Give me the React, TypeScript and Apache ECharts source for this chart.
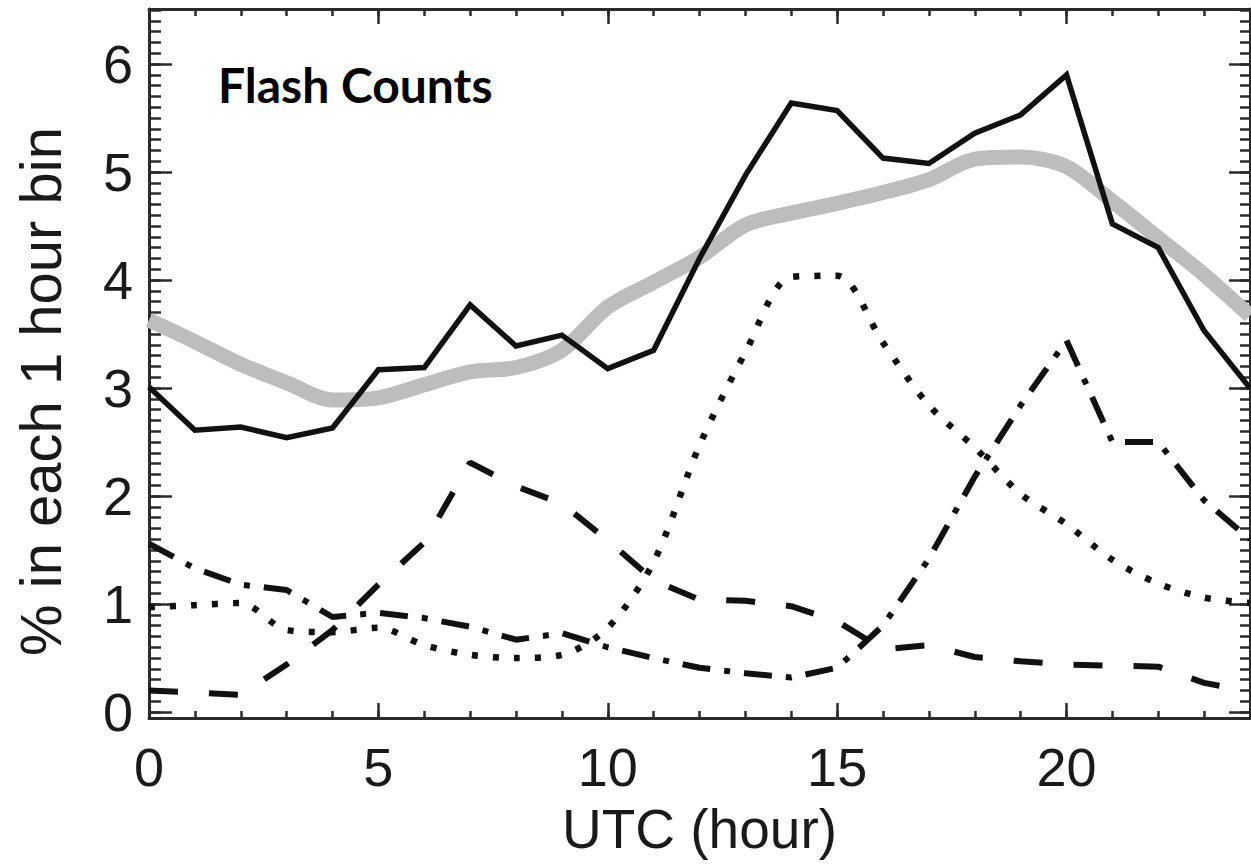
import React, { useEffect, useRef } from 'react';
import * as echarts from 'echarts';

// Hour of day (UTC)
const hours = [0, 1, 2, 3, 4, 5, 6, 7, 8, 9, 10, 11, 12, 13, 14, 15, 16, 17, 18, 19, 20, 21, 22, 23, 24];

// Black solid line
const solidSeries = [3.01, 2.61, 2.64, 2.54, 2.63, 3.17, 3.19, 3.77, 3.39, 3.49, 3.18, 3.35, 4.2, 4.97, 5.64, 5.57, 5.13, 5.08, 5.36, 5.53, 5.9, 4.52, 4.3, 3.53, 3.0];
// Thick gray line
const graySeries = [3.63, 3.43, 3.22, 3.05, 2.89, 2.91, 3.03, 3.15, 3.19, 3.35, 3.75, 3.98, 4.21, 4.51, 4.62, 4.71, 4.81, 4.93, 5.12, 5.14, 5.05, 4.73, 4.39, 4.05, 3.67];
// Dotted line
const dottedSeries = [0.97, 0.99, 1.01, 0.76, 0.74, 0.78, 0.62, 0.53, 0.5, 0.53, 0.78, 1.39, 2.47, 3.33, 4.03, 4.04, 3.42, 2.84, 2.45, 2.02, 1.74, 1.41, 1.19, 1.06, 1.01];
// Long-dashed line
const dashedSeries = [0.2, 0.18, 0.16, 0.44, 0.76, 1.18, 1.57, 2.31, 2.09, 1.93, 1.59, 1.22, 1.04, 1.03, 0.98, 0.84, 0.58, 0.62, 0.51, 0.47, 0.44, 0.43, 0.42, 0.27, 0.19];
// Dash-dot line
const dashDotSeries = [1.56, 1.33, 1.18, 1.13, 0.88, 0.92, 0.87, 0.79, 0.67, 0.73, 0.6, 0.5, 0.41, 0.36, 0.32, 0.41, 0.8, 1.42, 2.18, 2.84, 3.44, 2.5, 2.5, 1.96, 1.6];

const titleText = 'Flash Counts';
const xName = 'UTC (hour)';
const yName = '% in each 1 hour bin';

const pairs = (ys: number[]) => hours.map((h, i) => [h, ys[i]]);

export default function App() {
  const ref = useRef<HTMLDivElement>(null);
  useEffect(() => {
    if (!ref.current) return;
    const chart = echarts.init(ref.current, undefined, { renderer: 'svg' });
    const AX = '#2b2b2b';
    const FONT = 'Liberation Sans';
    const yMin = -0.055;
    const yMax = 6.51;
    const tickStyle = { color: AX, width: 2.5 };
    const xBase = (pos: string, interval: number, len: number, main: boolean, labels: boolean) => ({
      type: 'value',
      position: pos,
      min: 0,
      max: 24,
      interval,
      axisLine: { show: main, onZero: false, lineStyle: { color: AX, width: 3 } },
      axisTick: { show: true, inside: true, length: len, lineStyle: tickStyle },
      axisLabel: labels
        ? {
            show: true,
            fontSize: 54,
            fontFamily: FONT,
            color: '#1a1a1a',
            margin: 22,
            formatter: (v: number) => (v % 5 === 0 ? String(v) : ''),
          }
        : { show: false },
      splitLine: { show: false },
      ...(labels
        ? {
            name: xName,
            nameLocation: 'middle',
            nameGap: 83,
            nameTextStyle: { fontSize: 55, fontFamily: FONT, color: '#1a1a1a' },
          }
        : {}),
    });
    const yBase = (pos: string, step: number, len: number, main: boolean, labels: boolean) => ({
      type: 'value',
      position: pos,
      min: yMin,
      max: yMax,
      minInterval: step,
      maxInterval: step,
      axisLine: { show: main, onZero: false, lineStyle: { color: AX, width: 3 } },
      axisTick: { show: true, inside: true, length: len, lineStyle: tickStyle },
      axisLabel: labels
        ? {
            show: true,
            fontSize: 54,
            fontFamily: FONT,
            color: '#1a1a1a',
            margin: 16,
            formatter: (v: number) => (Math.abs(v - Math.round(v)) < 1e-6 ? String(Math.round(v)) : ''),
          }
        : { show: false },
      splitLine: { show: false },
      ...(labels
        ? {
            name: yName,
            nameLocation: 'middle',
            nameGap: 80,
            nameTextStyle: { fontSize: 58, fontFamily: FONT, color: '#1a1a1a', padding: [0, 56, 0, 0] },
          }
        : {}),
    });

    const black = '#111111';
    chart.setOption({
      animation: false,
      backgroundColor: '#ffffff',
      title: {
        text: titleText,
        left: 218,
        top: 60,
        padding: 0,
        textStyle: { fontFamily: 'Lato', fontWeight: 'bold', fontSize: 48, color: '#000000' },
      },
      grid: { left: 149, top: 9, width: 1101, height: 709, containLabel: false, outerBoundsMode: 'none' },
      xAxis: [
        xBase('bottom', 5, 15, true, true),
        xBase('bottom', 1, 7, false, false),
        xBase('top', 5, 15, true, false),
        xBase('top', 1, 7, false, false),
      ],
      yAxis: [
        yBase('left', 1, 23, true, true),
        yBase('left', 0.1, 12, false, false),
        yBase('right', 1, 21, true, false),
        yBase('right', 0.1, 10, false, false),
      ],
      series: [
        {
          name: 'Gray',
          type: 'line',
          data: pairs(graySeries),
          showSymbol: false,
          symbol: 'none',
          smooth: 0.3,
          lineStyle: { color: '#bdbdbd', width: 15, join: 'round' },
          z: 1,
        },
        {
          name: 'Dotted',
          type: 'line',
          data: pairs(dottedSeries),
          showSymbol: false,
          symbol: 'none',
          smooth: 0.3,
          lineStyle: { color: black, width: 6.5, type: [6, 15], cap: 'butt' },
          z: 2,
        },
        {
          name: 'Dashed',
          type: 'line',
          data: pairs(dashedSeries),
          showSymbol: false,
          symbol: 'none',
          lineStyle: { color: black, width: 6, type: [29, 31], cap: 'butt' },
          z: 2,
        },
        {
          name: 'Dash-dot',
          type: 'line',
          data: pairs(dashDotSeries),
          showSymbol: false,
          symbol: 'none',
          lineStyle: { color: black, width: 6, type: [28, 14, 6, 14], cap: 'butt' },
          z: 2,
        },
        {
          name: 'Solid',
          type: 'line',
          data: pairs(solidSeries),
          showSymbol: false,
          symbol: 'none',
          lineStyle: { color: black, width: 5.5, join: 'miter' },
          z: 3,
        },
      ],
    });
    return () => chart.dispose();
  }, []);
  return (
    <div
      ref={ref}
      style={{ position: 'absolute', left: 0, top: 0, width: 1251, height: 864, background: '#fff' }}
    />
  );
}
